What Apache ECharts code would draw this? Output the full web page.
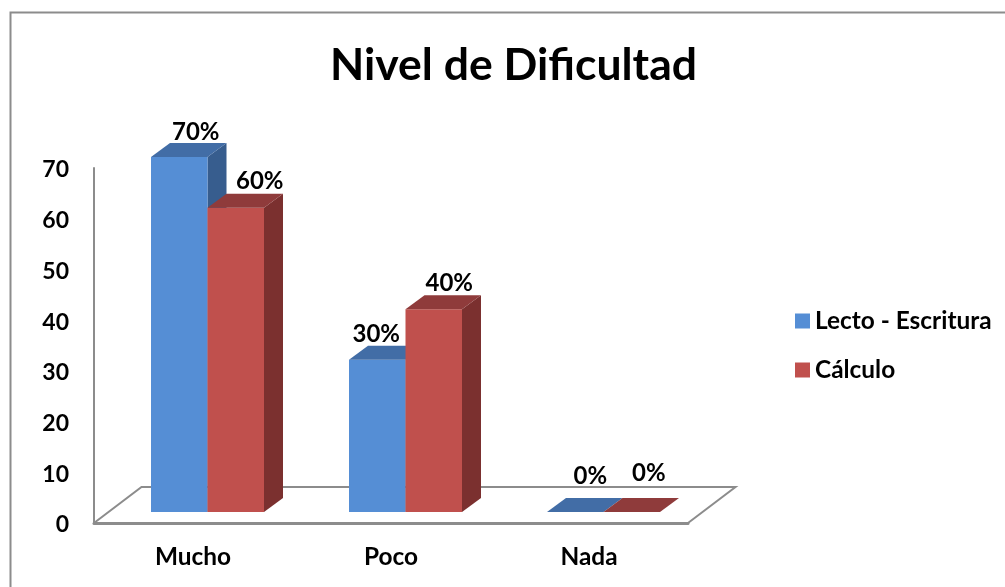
<!DOCTYPE html>
<html><head><meta charset="utf-8">
<style>html,body{margin:0;padding:0;background:#fff}#c{width:1005px;height:587px}</style>
<script src="https://cdn.jsdelivr.net/npm/echarts@6/dist/echarts.min.js"></script>
</head><body><div id="c"></div>
<script>
const titleText = 'Nivel de Dificultad';
const categories = ['Mucho', 'Poco', 'Nada'];
const valueTicks = [0, 10, 20, 30, 40, 50, 60, 70];
const lectoName = 'Lecto - Escritura';
const calculoName = 'Cálculo';
const lectoValues = [70, 30, 0];
const calculoValues = [60, 40, 0];

const FONT = 'Lato, Carlito, Calibri, sans-serif';
const GREY = '#8c8c8c';
const BAR_W = 56.5, DEPTH_X = 19, DEPTH_Y = 14;
const FRONT_DX = 14.5, FRONT_DY = -11;
const FLOOR_DX = 47.5, FLOOR_DY = -36;
const styles = [
  {front: '#558ed5', top: '#426da6', side: '#375d8e'},
  {front: '#c0504d', top: '#8f3b3b', side: '#7b302f'}
];
const labelNudge = [
  [[16.5, -25], [-1, -26], [15, -36]],
  [[24, -26], [15.5, -26], [17, -39]]
];

function barRender(seriesPos) {
  return function (params, api) {
    const idx = api.value(0), val = api.value(1);
    const top = api.coord([idx, val]);
    const base = api.coord([idx, 0]);
    const x0 = top[0] + FRONT_DX + (seriesPos === 0 ? -BAR_W : 0);
    const x1 = x0 + BAR_W;
    const yT = top[1] + FRONT_DY, yB = base[1] + FRONT_DY;
    const c = styles[seriesPos];
    const nudge = labelNudge[seriesPos][idx];
    const children = [];
    if (val > 0) {
      children.push({type: 'polygon', shape: {points: [[x1, yT], [x1 + DEPTH_X, yT - DEPTH_Y], [x1 + DEPTH_X, yB - DEPTH_Y], [x1, yB]]}, style: {fill: c.side}});
      children.push({type: 'rect', shape: {x: x0, y: yT, width: BAR_W, height: yB - yT}, style: {fill: c.front}});
    }
    children.push({type: 'polygon', shape: {points: [[x0, yT], [x0 + DEPTH_X, yT - DEPTH_Y], [x1 + DEPTH_X, yT - DEPTH_Y], [x1, yT]]}, style: {fill: c.top}});
    children.push({type: 'text', z2: 50, style: {
      x: (x0 + x1) / 2 + nudge[0], y: yT + nudge[1], text: val + '%',
      fill: '#000', font: 'bold 24px ' + FONT, align: 'center', verticalAlign: 'middle'}});
    return {type: 'group', children};
  };
}

function floorRender(params, api) {
  const half = api.size([1, 0])[0] / 2;
  const p0 = api.coord([0, 0]);
  const p2 = api.coord([categories.length - 1, 0]);
  const a = [p0[0] - half, p0[1]];
  const d = [p2[0] + half, p2[1]];
  return {type: 'polyline', shape: {points: [
    a, [a[0] + FLOOR_DX, a[1] + FLOOR_DY], [d[0] + FLOOR_DX, d[1] + FLOOR_DY], d
  ]}, style: {fill: 'none', stroke: GREY, lineWidth: 2}, silent: true};
}

const chart = echarts.init(document.getElementById('c'), null, {renderer: 'canvas'});
chart.setOption({
  animation: false,
  backgroundColor: '#fff',
  title: {text: titleText, left: 508.5, top: 38, textAlign: 'center',
    textStyle: {fontFamily: FONT, fontWeight: 'bold', fontSize: 44.5, color: '#000'}},
  graphic: [{type: 'rect', silent: true, z: -1,
    shape: {x: 10.5, y: 12.5, width: 1020, height: 620},
    style: {fill: 'none', stroke: GREY, lineWidth: 2}}],
  legend: {
    left: 790, top: 302, orient: 'vertical', itemWidth: 15, itemHeight: 15, itemGap: 21, itemStyle: {borderWidth: 0},
    icon: 'rect',
    textStyle: {fontFamily: FONT, fontWeight: 'bold', fontSize: 24.4, color: '#000', lineHeight: 28},
    data: [{name: lectoName, itemStyle: {color: styles[0].front}}, {name: calculoName, itemStyle: {color: styles[1].front}}]
  },
  grid: {left: 94, top: 168, width: 594, height: 355, containLabel: false},
  xAxis: {type: 'category', data: categories,
    axisLine: {show: true, lineStyle: {color: GREY, width: 3}},
    axisTick: {show: false},
    axisLabel: {color: '#000', fontFamily: FONT, fontWeight: 'bold', fontSize: 24.4, margin: 22}},
  yAxis: {type: 'value', min: valueTicks[0], max: valueTicks[valueTicks.length - 1], interval: 10,
    axisLine: {show: true, lineStyle: {color: GREY, width: 2}},
    axisTick: {show: false}, splitLine: {show: false},
    axisLabel: {color: '#000', fontFamily: FONT, fontWeight: 'bold', fontSize: 23, margin: 25, verticalAlign: 'top', lineHeight: 4}},
  series: [
    {type: 'custom', name: 'floor', renderItem: floorRender, data: [[0, 0]], z: 1, silent: true, encode: {x: 0, y: 1}},
    {type: 'custom', name: lectoName, renderItem: barRender(0), itemStyle: {color: styles[0].front}, z: 2,
      data: lectoValues.map((v, i) => [i, v]), encode: {x: 0, y: 1}},
    {type: 'custom', name: calculoName, renderItem: barRender(1), itemStyle: {color: styles[1].front}, z: 3,
      data: calculoValues.map((v, i) => [i, v]), encode: {x: 0, y: 1}}
  ]
});
</script></body></html>
